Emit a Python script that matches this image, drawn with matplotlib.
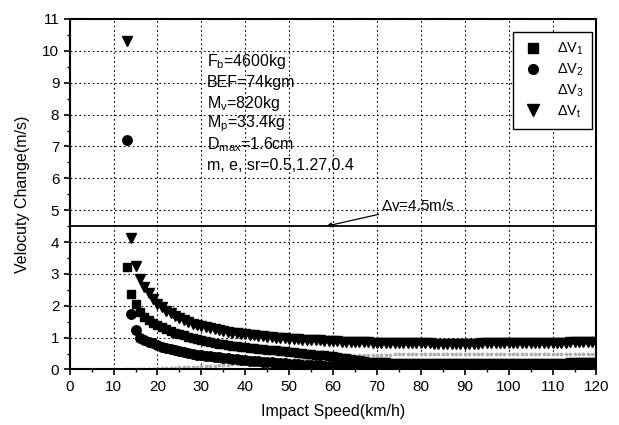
import matplotlib
matplotlib.use("Agg")
import matplotlib.pyplot as plt
from matplotlib.lines import Line2D
from matplotlib.ticker import MultipleLocator

plt.rcParams['font.family'] = ['Liberation Sans', 'DejaVu Sans']
plt.rcParams['mathtext.fontset'] = 'custom'
plt.rcParams['mathtext.rm'] = 'Liberation Sans'
plt.rcParams['mathtext.it'] = 'Liberation Sans'

# ---- data ----
speed = list(range(13, 121))

dv_t = [10.3, 4.12, 3.25, 2.85, 2.6, 2.4, 2.22, 2.07,
        1.95, 1.85, 1.76, 1.68, 1.61, 1.55, 1.49, 1.44, 1.40, 1.36,
        1.32, 1.29, 1.26, 1.23, 1.21, 1.18, 1.16, 1.14, 1.12, 1.10,
        1.08, 1.07, 1.05, 1.04, 1.02, 1.01, 1.00, 0.99, 0.98, 0.97,
        0.96, 0.95, 0.94, 0.93, 0.92, 0.91, 0.91, 0.90, 0.89, 0.89,
        0.88, 0.87, 0.87, 0.86, 0.86, 0.85, 0.85, 0.85, 0.84, 0.84,
        0.84, 0.83, 0.83, 0.83, 0.83, 0.82, 0.82, 0.82, 0.82, 0.82,
        0.82, 0.82, 0.81, 0.81, 0.81, 0.81, 0.81, 0.81, 0.81, 0.81,
        0.81, 0.81, 0.81, 0.82, 0.82, 0.82, 0.82, 0.82, 0.82, 0.82,
        0.82, 0.82, 0.83, 0.83, 0.83, 0.83, 0.83, 0.83, 0.84, 0.84,
        0.84, 0.84, 0.84, 0.85, 0.85, 0.85, 0.85, 0.86, 0.86, 0.86]

dv_1 = [3.22, 2.37, 2.04, 1.80, 1.65, 1.55, 1.47, 1.40,
        1.33, 1.27, 1.21, 1.16, 1.11, 1.07, 1.03, 0.99, 0.95, 0.92,
        0.89, 0.86, 0.84, 0.81, 0.79, 0.77, 0.75, 0.73, 0.71, 0.70,
        0.68, 0.67, 0.65, 0.64, 0.62, 0.61, 0.60, 0.58, 0.57, 0.56,
        0.54, 0.53, 0.52, 0.50, 0.49, 0.47, 0.46, 0.44, 0.42, 0.41,
        0.39, 0.37, 0.35, 0.33, 0.31, 0.29, 0.27, 0.25, 0.24, 0.23,
        0.22, 0.22, 0.21, 0.21, 0.21, 0.21, 0.20, 0.20, 0.20, 0.20,
        0.20, 0.20, 0.20, 0.20, 0.20, 0.20, 0.20, 0.20, 0.20, 0.20,
        0.20, 0.20, 0.20, 0.20, 0.20, 0.20, 0.20, 0.20, 0.20, 0.20,
        0.20, 0.20, 0.21, 0.21, 0.21, 0.21, 0.21, 0.21, 0.21, 0.21,
        0.21, 0.21, 0.21, 0.22, 0.22, 0.22, 0.22, 0.22, 0.22, 0.22]

dv_2 = [7.2, 1.73, 1.25, 1.00, 0.93, 0.87, 0.82, 0.77,
        0.72, 0.68, 0.64, 0.61, 0.58, 0.55, 0.52, 0.50, 0.47, 0.45,
        0.43, 0.41, 0.40, 0.38, 0.36, 0.35, 0.33, 0.32, 0.31, 0.30,
        0.28, 0.27, 0.26, 0.24, 0.23, 0.22, 0.21, 0.20, 0.19, 0.18,
        0.17, 0.16, 0.15, 0.15, 0.14, 0.13, 0.13, 0.12, 0.12, 0.11,
        0.11, 0.11, 0.11, 0.11, 0.11, 0.11, 0.11, 0.11, 0.11, 0.11,
        0.11, 0.11, 0.11, 0.11, 0.11, 0.11, 0.11, 0.11, 0.11, 0.11,
        0.11, 0.11, 0.11, 0.11, 0.11, 0.11, 0.11, 0.11, 0.11, 0.11,
        0.11, 0.11, 0.11, 0.11, 0.11, 0.11, 0.11, 0.11, 0.11, 0.11,
        0.11, 0.11, 0.11, 0.11, 0.11, 0.11, 0.11, 0.11, 0.11, 0.11,
        0.11, 0.11, 0.11, 0.11, 0.11, 0.11, 0.11, 0.11, 0.11, 0.11]

dv_3 = [0.00, 0.01, 0.01, 0.02, 0.02, 0.03, 0.03, 0.04,
        0.04, 0.05, 0.05, 0.06, 0.07, 0.07, 0.08, 0.09, 0.09, 0.10,
        0.11, 0.12, 0.12, 0.13, 0.14, 0.15, 0.16, 0.17, 0.18, 0.19,
        0.20, 0.21, 0.22, 0.23, 0.24, 0.25, 0.26, 0.27, 0.28, 0.29,
        0.30, 0.31, 0.32, 0.33, 0.34, 0.35, 0.36, 0.37, 0.38, 0.39,
        0.40, 0.41, 0.42, 0.43, 0.43, 0.44, 0.45, 0.45, 0.46, 0.46,
        0.47, 0.47, 0.47, 0.48, 0.48, 0.48, 0.48, 0.49, 0.49, 0.49,
        0.49, 0.49, 0.49, 0.49, 0.49, 0.50, 0.50, 0.50, 0.50, 0.50,
        0.50, 0.50, 0.50, 0.50, 0.50, 0.50, 0.50, 0.50, 0.50, 0.50,
        0.50, 0.50, 0.50, 0.50, 0.50, 0.50, 0.50, 0.50, 0.50, 0.50,
        0.50, 0.50, 0.50, 0.50, 0.50, 0.50, 0.50, 0.50, 0.50, 0.50]

limit_dv = 4.5
param_lines = [r"F$_{\rm b}$=4600kg", "BEF=74kgm", r"M$_{\rm v}$=820kg",
               r"M$_{\rm p}$=33.4kg", r"D$_{\rm max}$=1.6cm",
               "m, e, sr=0.5,1.27,0.4"]
legend_labels = [r"$\Delta$V$_1$", r"$\Delta$V$_2$", r"$\Delta$V$_3$", r"$\Delta$V$_{\rm t}$"]

# ---- figure ----
fig = plt.figure(figsize=(6.19, 4.25), dpi=100)
ax = fig.add_axes([0.1126, 0.1306, 0.851, 0.8247])

ax.set_xlim(0, 120)
ax.set_ylim(0, 11)

ax.grid(True, which='major', linestyle=(0, (1.5, 2.5)), color='black', linewidth=0.8)
ax.set_axisbelow(True)

ax.axhline(limit_dv, color='black', linewidth=1.3, zorder=3)

ax.plot(speed, dv_3, linestyle='none', marker='.', markersize=3.5, color='#b0b0b0', zorder=2)
ax.plot(speed, dv_2, linestyle='none', marker='o', markersize=6.8, color='black', zorder=4)
ax.plot(speed, dv_1, linestyle='none', marker='s', markersize=6.2, color='black', zorder=4)
ax.plot(speed, dv_t, linestyle='none', marker='v', markersize=7.8, color='black', zorder=4)

handles = [Line2D([], [], linestyle='none', marker='s', markersize=6.5, color='black'),
           Line2D([], [], linestyle='none', marker='o', markersize=7, color='black'),
           Line2D([], [], linestyle='none', marker=''),
           Line2D([], [], linestyle='none', marker='v', markersize=8, color='black')]
leg = ax.legend(handles, legend_labels, loc='upper right', bbox_to_anchor=(0.992, 0.962),
                borderaxespad=0, fontsize=10.5, frameon=True, fancybox=False,
                edgecolor='black', handletextpad=0.9, labelspacing=0.3,
                borderpad=0.6, handlelength=1.5)
leg.get_frame().set_linewidth(1.0)
leg.get_frame().set_alpha(1)

for i, t in enumerate(param_lines):
    ax.text(31.3, 9.66 - i * 0.65, t, fontsize=11.5, va='center', ha='left')

ax.annotate(r"$\Delta$v=4.5m/s", xy=(58.5, limit_dv), xytext=(71, 5.15),
            fontsize=11, va='center', ha='left',
            arrowprops=dict(arrowstyle='-|>', color='black', lw=0.9,
                            mutation_scale=7, shrinkA=0, shrinkB=0))

ax.xaxis.set_major_locator(MultipleLocator(10))
ax.xaxis.set_minor_locator(MultipleLocator(5))
ax.yaxis.set_major_locator(MultipleLocator(1))
ax.yaxis.set_minor_locator(MultipleLocator(0.5))
ax.tick_params(which='major', direction='out', length=4, width=1.2, labelsize=11, colors='black')
ax.tick_params(which='minor', direction='out', length=2.5, width=1.0)

for s in ax.spines.values():
    s.set_linewidth(1.5)

ax.set_xlabel("Impact Speed(km/h)", fontsize=11.5, labelpad=7)
ax.set_ylabel("Velocuty Change(m/s)", fontsize=11.5, labelpad=9)

fig.savefig("out.png", dpi=100)
